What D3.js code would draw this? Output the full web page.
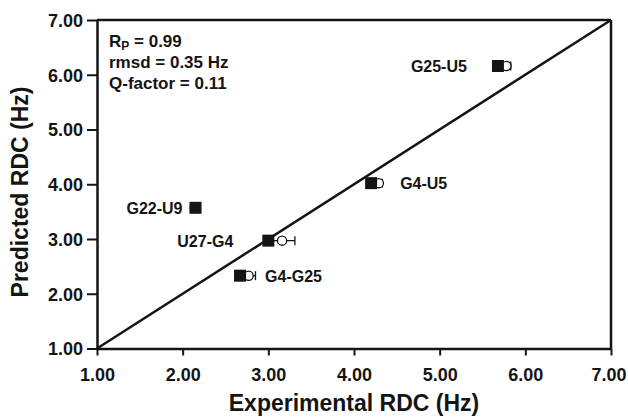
<!DOCTYPE html>
<html>
<head>
<meta charset="utf-8">
<script src="https://cdn.jsdelivr.net/npm/d3@7"></script>
<style>
  html, body { margin: 0; padding: 0; background: #fff; }
  svg { display: block; font-family: "Liberation Sans", Arial, Helvetica, sans-serif; }
</style>
</head>
<body>
<svg id="chart" width="628" height="418"></svg>
<script>
// ---- data ----
const labels        = ["G25-U5", "G4-U5", "G22-U9", "U27-G4", "G4-G25"];
const experimental  = [5.68, 4.20, 2.15, 3.00, 2.67];   // filled squares (x)
const predicted     = [6.16, 4.02, 3.57, 2.97, 2.33];   // y
const expAlt        = [5.78, 4.29, 2.14, 3.16, 2.77];   // open circles (x)
const expAltErr     = [0.05, 0.04, 0.02, 0.15, 0.08];   // horizontal error
const tickValues    = [1, 2, 3, 4, 5, 6, 7];
const statLines     = [["R", "P", " = 0.99"], ["rmsd = 0.35 Hz"], ["Q-factor = 0.11"]];
const xTitle = "Experimental RDC (Hz)";
const yTitle = "Predicted RDC (Hz)";

(function () {
// ---- layout ----
const labelSide = ["left", "right", "left", "left", "right"];
const labelGap  = [31, 29, 13, 35, 25];

const svg = d3.select("#chart");
const pl = 97, pr = 611, pt = 20, pb = 348.5;
const x = d3.scaleLinear().domain([1, 7]).range([pl, pr]);
const y = d3.scaleLinear().domain([1, 7]).range([pb, pt]);
const ink = "#141414";

// frame (top & right)
svg.append("line").attr("x1", pl).attr("x2", pr).attr("y1", pt).attr("y2", pt)
  .attr("stroke", ink).attr("stroke-width", 2.5);
svg.append("line").attr("x1", pr).attr("x2", pr).attr("y1", pt).attr("y2", pb)
  .attr("stroke", ink).attr("stroke-width", 2.5);

// x axis
const gx = svg.append("g").attr("transform", `translate(0,${pb})`)
  .call(d3.axisBottom(x).tickValues(tickValues).tickFormat(d3.format(".2f")).tickSize(7).tickSizeOuter(0));
gx.select(".domain").attr("stroke", ink).attr("stroke-width", 2.5);
gx.selectAll(".tick line").attr("stroke", ink).attr("stroke-width", 2);
gx.selectAll(".tick text").attr("y", 20).attr("dy", "0.71em")
  .attr("font-size", 18).attr("font-weight", "bold").attr("fill", ink)
  .attr("font-family", "Liberation Sans, Arial, sans-serif")
  .attr("dx", (d, i, n) => i === n.length - 1 ? -2.5 : 0);

// y axis
const gy = svg.append("g").attr("transform", `translate(${pl},0)`)
  .call(d3.axisLeft(y).tickValues(tickValues).tickFormat(d3.format(".2f")).tickSize(10).tickSizeOuter(0));
gy.select(".domain").attr("stroke", ink).attr("stroke-width", 2.5);
gy.selectAll(".tick line").attr("stroke", ink).attr("stroke-width", 2);
gy.selectAll(".tick text").attr("x", -14).attr("dy", "0.36em")
  .attr("font-size", 18).attr("font-weight", "bold").attr("fill", ink)
  .attr("font-family", "Liberation Sans, Arial, sans-serif");

// diagonal
svg.append("line")
  .attr("x1", x(1)).attr("y1", y(1)).attr("x2", x(7)).attr("y2", y(7))
  .attr("stroke", ink).attr("stroke-width", 2.5);

// points
const pts = labels.map((l, i) => ({ l, e: experimental[i], p: predicted[i], a: expAlt[i], err: expAltErr[i], side: labelSide[i], gap: labelGap[i] }));

const eb = svg.append("g");
pts.forEach(d => {
  const cy = y(d.p);
  eb.append("line").attr("x1", x(d.a - d.err)).attr("x2", x(d.a + d.err)).attr("y1", cy).attr("y2", cy)
    .attr("stroke", ink).attr("stroke-width", 1.3);
  [d.a - d.err, d.a + d.err].forEach(v => {
    eb.append("line").attr("x1", x(v)).attr("x2", x(v)).attr("y1", cy - 4.5).attr("y2", cy + 4.5)
      .attr("stroke", ink).attr("stroke-width", 1.3);
  });
  eb.append("circle").attr("cx", x(d.a)).attr("cy", cy).attr("r", 4.6)
    .attr("fill", "#fff").attr("stroke", ink).attr("stroke-width", 1.3);
});

svg.append("g").selectAll("rect").data(pts).join("rect")
  .attr("x", d => x(d.e) - 6).attr("y", d => y(d.p) - 6)
  .attr("width", 12).attr("height", 12).attr("fill", ink);

svg.append("g").selectAll("text").data(pts).join("text")
  .attr("x", d => d.side === "left" ? x(d.e) - d.gap : x(d.e) + d.gap)
  .attr("y", d => y(d.p))
  .attr("dy", "0.37em")
  .attr("text-anchor", d => d.side === "left" ? "end" : "start")
  .attr("font-size", 16).attr("font-weight", "bold").attr("fill", ink)
  .text(d => d.l);

// stats
const st = svg.append("g");
statLines.forEach((parts, i) => {
  const t = st.append("text").attr("x", 109).attr("y", 47 + i * 20.8)
    .attr("font-size", 17).attr("font-weight", "bold").attr("fill", ink);
  if (parts.length === 3) {
    t.append("tspan").text(parts[0]);
    t.append("tspan").attr("font-size", 12).attr("dy", 3).text(parts[1]);
    t.append("tspan").attr("dy", -3).text(parts[2]);
  } else {
    t.text(parts[0]);
  }
});

// axis titles
svg.append("text").attr("x", (pl + pr) / 2).attr("y", 411)
  .attr("text-anchor", "middle").attr("font-size", 23).attr("font-weight", "bold").attr("fill", ink)
  .text(xTitle);
svg.append("text").attr("transform", `translate(28,192) rotate(-90)`)
  .attr("text-anchor", "middle").attr("font-size", 23).attr("font-weight", "bold").attr("fill", ink)
  .text(yTitle);
})();
</script>
</body>
</html>
